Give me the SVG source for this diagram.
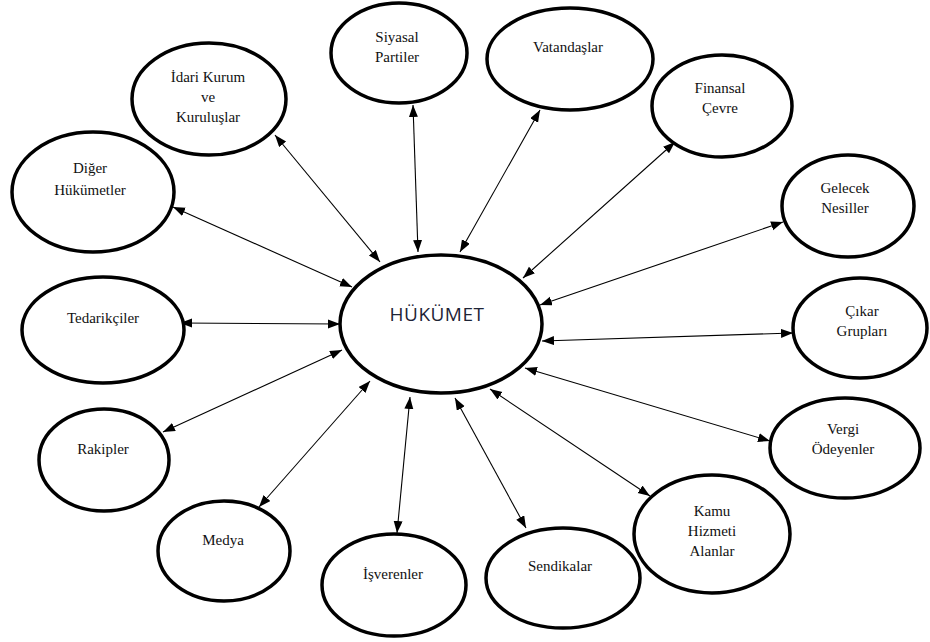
<svg xmlns="http://www.w3.org/2000/svg" width="930" height="642" viewBox="0 0 930 642">
<style>
.n ellipse{fill:#fff;stroke:#000;stroke-width:3.5}
.n text{font-family:"Liberation Serif","Times New Roman",serif;font-size:15px;fill:#111;text-anchor:middle}
.c line{stroke:#000;stroke-width:1.1;marker-start:url(#ah);marker-end:url(#ah)}
</style>
<defs>
<marker id="ah" markerUnits="userSpaceOnUse" markerWidth="12" markerHeight="10" refX="12" refY="4.5" orient="auto-start-reverse"><path d="M0,0 L12,4.5 L0,9 z" fill="#000"/></marker>
</defs>
<rect width="930" height="642" fill="#fff"/>
<g class="c" id="connectors">
<line x1="380" y1="262" x2="275" y2="135"/>
<line x1="418" y1="252" x2="413" y2="105"/>
<line x1="352" y1="287" x2="173" y2="207"/>
<line x1="460" y1="252" x2="540" y2="110"/>
<line x1="523" y1="278" x2="675" y2="142"/>
<line x1="540" y1="305" x2="783" y2="222"/>
<line x1="340" y1="324" x2="180" y2="323"/>
<line x1="542" y1="341" x2="793" y2="333"/>
<line x1="342" y1="350" x2="163" y2="432"/>
<line x1="370" y1="381" x2="259" y2="507"/>
<line x1="410" y1="397" x2="397" y2="533"/>
<line x1="455" y1="398" x2="526" y2="528"/>
<line x1="490" y1="389" x2="650" y2="496"/>
<line x1="525" y1="368" x2="770" y2="441"/>
</g>
<g class="n" id="hukumet"><ellipse cx="441" cy="324" rx="101" ry="69"/><text x="437" y="321" style="font-family:'Open Sans','Liberation Sans',sans-serif;font-size:19px;fill:#1e2436;letter-spacing:0.5px">HÜKÜMET</text></g>
<g class="n" id="idari"><ellipse cx="209" cy="99" rx="77" ry="56"/><text x="208" y="82">İdari Kurum</text><text x="208" y="102">ve</text><text x="208" y="122">Kuruluşlar</text></g>
<g class="n" id="siyasal"><ellipse cx="399" cy="53" rx="68" ry="50"/><text x="397" y="42">Siyasal</text><text x="397" y="62">Partiler</text></g>
<g class="n" id="diger"><ellipse cx="93" cy="192" rx="81" ry="60"/><text x="90" y="173">Diğer</text><text x="90" y="195">Hükümetler</text></g>
<g class="n" id="tedarik"><ellipse cx="103" cy="330" rx="81" ry="53"/><text x="103" y="323">Tedarikçiler</text></g>
<g class="n" id="rakip"><ellipse cx="104" cy="460" rx="65" ry="51"/><text x="103" y="454">Rakipler</text></g>
<g class="n" id="medya"><ellipse cx="224" cy="551" rx="66" ry="50"/><text x="223" y="545">Medya</text></g>
<g class="n" id="isveren"><ellipse cx="394" cy="585" rx="72" ry="51"/><text x="393" y="579">İşverenler</text></g>
<g class="n" id="sendika"><ellipse cx="563" cy="578" rx="77" ry="50"/><text x="560" y="571">Sendikalar</text></g>
<g class="n" id="kamu"><ellipse cx="712" cy="534" rx="78" ry="59"/><text x="712" y="516">Kamu</text><text x="712" y="536">Hizmeti</text><text x="712" y="556">Alanlar</text></g>
<g class="n" id="vergi"><ellipse cx="845" cy="448" rx="75" ry="50"/><text x="843" y="434">Vergi</text><text x="843" y="454">Ödeyenler</text></g>
<g class="n" id="cikar"><ellipse cx="860" cy="328" rx="67" ry="50"/><text x="862" y="316">Çıkar</text><text x="862" y="336">Grupları</text></g>
<g class="n" id="gelecek"><ellipse cx="848" cy="206" rx="66" ry="51"/><text x="845" y="193">Gelecek</text><text x="845" y="213">Nesiller</text></g>
<g class="n" id="finans"><ellipse cx="722" cy="106" rx="70" ry="51"/><text x="720" y="93">Finansal</text><text x="720" y="113">Çevre</text></g>
<g class="n" id="vatandas"><ellipse cx="570" cy="59" rx="83" ry="51"/><text x="568" y="52">Vatandaşlar</text></g>
</svg>
